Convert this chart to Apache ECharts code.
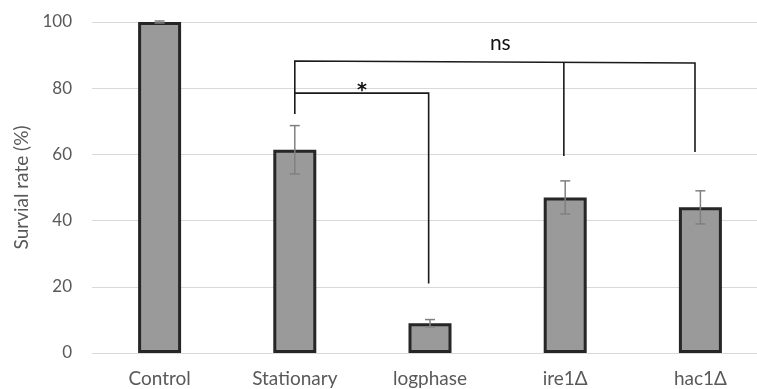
<!DOCTYPE html>
<html><head><meta charset="utf-8">
<script src="https://cdn.jsdelivr.net/npm/echarts@6/dist/echarts.min.js"></script>
<style>html,body{margin:0;padding:0;background:#fff;overflow:hidden;width:757px;height:389px}#c{width:790px;height:389px}</style>
</head><body><div id="c"></div>
<script>
const categories = ['Control', 'Stationary', 'logphase', 'ire1Δ', 'hac1Δ'];
const values = [100, 61.4, 9, 47, 44];
const errors = [0.3, 7.3, 1.1, 5, 5];
const yTicks = [0, 20, 40, 60, 80, 100];
// significance brackets: [category position, value]
const bracketNs = [[1, 72.2], [1, 88.2], [3.96, 87.6], [3.96, 60.7]];
const bracketNsMid = [[2.99, 87.8], [2.99, 59.5]];
const bracketStar = [[1, 78.5], [1.99, 78.5], [1.99, 21]];
const labelNs = [2.52, 93.6];
const labelStar = [1.497, 79.2];

const font = 'Lato, "Open Sans", sans-serif';
const chart = echarts.init(document.getElementById('c'));
const lineStyle = {color: '#1a1a1a', width: 1.6};
function bracket(data) {
  return {type: 'custom', z: 5, silent: true, data: [0],
    renderItem: function (params, api) {
      const x0 = api.coord([0, 0])[0], x1 = api.coord([1, 0])[0];
      const pts = data.map(p => [x0 + (x1 - x0) * p[0], api.coord([0, p[1]])[1]]);
      return {type: 'polyline', shape: {points: pts}, style: {stroke: lineStyle.color, lineWidth: lineStyle.width, fill: null}};
    }};
}
chart.setOption({
  animation: false,
  grid: {left: 92, top: 22, right: 22, bottom: 36},
  xAxis: {
    type: 'category', data: categories,
    axisLine: {show: false}, axisTick: {show: false},
    axisLabel: {color: '#595959', fontSize: 19, fontFamily: font, margin: 16}
  },
  yAxis: {
    type: 'value', min: 0, max: 100, interval: 20,
    name: 'Survial rate (%)', nameLocation: 'middle', nameGap: 58,
    nameTextStyle: {color: '#595959', fontSize: 19, fontFamily: font},
    axisLabel: {color: '#595959', fontSize: 17, fontFamily: font, margin: 20},
    splitLine: {lineStyle: {color: '#d9d9d9', width: 1}}
  },
  series: [
    {
      type: 'bar', data: values, barWidth: 43,
      itemStyle: {color: '#9a9a9a', borderColor: '#262626', borderWidth: 3}
    },
    {
      type: 'custom', z: 4,
      data: values.map((v, i) => [i, v - errors[i], v + errors[i]]),
      renderItem: function (params, api) {
        const lo = api.coord([api.value(0), api.value(1)]);
        const hi = api.coord([api.value(0), api.value(2)]);
        const cap = 5;
        const st = {stroke: '#808080', lineWidth: 1.5};
        return {type: 'group', children: [
          {type: 'line', shape: {x1: hi[0], y1: hi[1], x2: lo[0], y2: lo[1]}, style: st},
          {type: 'line', shape: {x1: hi[0] - cap, y1: hi[1], x2: hi[0] + cap, y2: hi[1]}, style: st},
          {type: 'line', shape: {x1: lo[0] - cap, y1: lo[1], x2: lo[0] + cap, y2: lo[1]}, style: st}
        ]};
      }
    },
    bracket(bracketNs),
    bracket(bracketNsMid),
    bracket(bracketStar),
    {
      type: 'custom', z: 6,
      data: [[labelNs[0], labelNs[1], 'ns'], [labelStar[0], labelStar[1], '*']],
      renderItem: function (params, api) {
        const x0 = api.coord([0, 0])[0], x1 = api.coord([1, 0])[0];
        const xv = x0 + (x1 - x0) * api.value(0);
        const yv = api.coord([0, api.value(1)])[1];
        const isNs = params.dataIndex === 0;
        return {type: 'text', x: xv, y: yv, style: {
          text: isNs ? 'ns' : '*', fill: '#111', align: 'center', verticalAlign: 'middle',
          font: isNs ? ('21px ' + font) : 'bold 19px "DejaVu Sans", sans-serif'
        }};
      }
    }
  ]
});
</script></body></html>
